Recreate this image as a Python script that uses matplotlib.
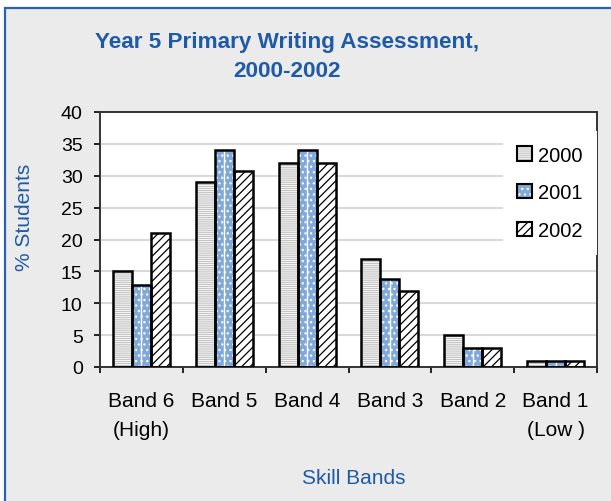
import numpy as np
import matplotlib
matplotlib.use('Agg')
import matplotlib.pyplot as plt
from matplotlib.patches import Patch, Rectangle
from matplotlib.legend_handler import HandlerTuple

plt.rcParams['font.family'] = ['Liberation Sans', 'DejaVu Sans']
plt.rcParams['hatch.linewidth'] = 0.9

# Відсоток учнів у кожному діапазоні навичок
bands = ['Band 6\n(High)', 'Band 5', 'Band 4', 'Band 3', 'Band 2', 'Band 1\n(Low )']
years = ['2000', '2001', '2002']
pct_2000 = [15, 29, 32, 17, 5, 1]
pct_2001 = [12.9, 34, 34, 13.8, 3, 1]
pct_2002 = [21, 30.8, 32, 11.9, 3, 1]

blue_text = '#1d5aa8'
bg = '#ebebeb'

# Стиль кожної серії: заливка, колір штрихування, штрихування
styles = [
    ('white', '#c4c4c4', '--------'),
    ('#80a8d8', 'white', '...'),
    ('white', 'black', '////'),
]

fig = plt.figure(figsize=(6.11, 5.02), dpi=100, facecolor='white')
W, H = 611, 502

# Сіра рамка з синім контуром
fig.patches.append(Rectangle((4.5 / W, -0.1), 1.2, (H - 9) / H + 0.1,
                             transform=fig.transFigure, facecolor=bg,
                             edgecolor='#2a62b0', linewidth=1.6, zorder=-10))

ax = fig.add_axes([100 / W, 1 - 368 / H, 497 / W, 255 / H])
ax.set_facecolor('white')

x = np.arange(len(bands))
width = 0.229
series = [pct_2000, pct_2001, pct_2002]
handles = []
for i, (vals, (fc, hc, hatch)) in enumerate(zip(series, styles)):
    pos = x + (i - 1) * width
    ax.bar(pos, vals, width, facecolor=fc, edgecolor=hc, hatch=hatch,
           linewidth=0, zorder=2)
    ax.bar(pos, vals, width, fill=False, edgecolor='black', linewidth=1.8, zorder=3)
    if i == 1:
        # біла вертикальна смужка всередині стовпчиків 2001
        ax.vlines(pos, 0, vals, color='white', linewidth=1.0, zorder=2.5)
    handles.append((Patch(facecolor=fc, edgecolor=hc, hatch=hatch, linewidth=0),
                    Patch(fill=False, edgecolor='black', linewidth=1.5)))

ax.set_xlim(-0.5, len(bands) - 0.5)
ax.set_ylim(0, 40)
ax.set_yticks(np.arange(0, 41, 5))
ax.yaxis.grid(True, color='#d9d9d9', linewidth=1.5, zorder=0)
ax.set_axisbelow(True)

ax.set_xticks(x)
ax.set_xticklabels(bands, fontsize=15, linespacing=1.7)
ax.set_xticks(np.arange(-0.5, len(bands)), minor=True)
ax.tick_params(axis='x', which='major', length=0, pad=17)
ax.tick_params(axis='x', which='minor', length=4, width=1.2, direction='out')
ax.tick_params(axis='y', length=4.5, width=1.2, pad=8, labelsize=14)

for s in ax.spines.values():
    s.set_color('#333333')
    s.set_linewidth(1.4)

leg = ax.legend(handles, years, handler_map={tuple: HandlerTuple(ndivide=1)},
                loc='upper right', bbox_to_anchor=(1.0, 0.925), borderaxespad=0,
                fontsize=14.5, frameon=True, fancybox=False, handlelength=0.72,
                handleheight=0.72, handletextpad=0.3, labelspacing=0.93,
                borderpad=0.72)
leg.get_frame().set_facecolor('white')
leg.get_frame().set_edgecolor('none')
leg.get_frame().set_alpha(1)

fig.text(287 / W, 1 - 57 / H, 'Year 5 Primary Writing Assessment,\n2000-2002',
         ha='center', va='center', fontsize=16.2, fontweight='bold',
         color=blue_text, linespacing=1.55)
fig.text(25 / W, 1 - 217 / H, '% Students', rotation=90, ha='center',
         va='center', fontsize=15, color=blue_text)
fig.text(354 / W, 1 - 479 / H, 'Skill Bands', ha='center', va='center',
         fontsize=15, color=blue_text)

fig.savefig('out.png', dpi=100, facecolor=fig.get_facecolor())
